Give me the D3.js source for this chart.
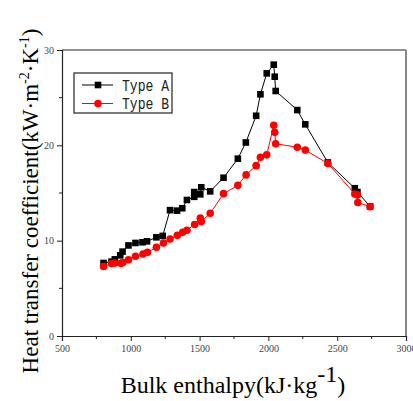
<!DOCTYPE html>
<html lang="en">
  <head>
    <meta charset="UTF-8" />
    <title>Heat transfer coefficient</title>
    <script src="https://cdn.jsdelivr.net/npm/d3@7"></script>
    <style>
      body { margin: 0; background: #fff; }
      svg { display: block; }
    </style>
  </head>
  <body>
    <svg width="413" height="401"></svg>
    <script>
      // data
      const enthalpyA = [802, 860, 884, 923, 940, 983, 1034, 1085, 1118, 1186, 1232, 1285, 1336, 1374, 1408, 1461, 1461, 1505, 1512, 1577, 1674, 1778, 1836, 1911, 1942, 1988, 2039, 2046, 2053, 2210, 2268, 2432, 2628, 2647, 2739];
      const htcA = [7.66, 7.8, 8.04, 8.46, 8.85, 9.5, 9.76, 9.83, 9.93, 10.35, 10.5, 13.2, 13.15, 13.4, 14.27, 14.6, 15.1, 14.86, 15.6, 15.17, 16.6, 18.6, 20.3, 23.1, 25.35, 27.55, 28.46, 27.2, 25.7, 23.7, 22.2, 18.2, 15.5, 15.1, 13.6];
      const enthalpyB = [802, 860, 884, 928, 942, 983, 1034, 1089, 1121, 1186, 1237, 1285, 1338, 1377, 1408, 1464, 1505, 1512, 1577, 1674, 1778, 1838, 1911, 1942, 1988, 2039, 2046, 2053, 2210, 2268, 2432, 2628, 2647, 2650, 2739];
      const htcB = [7.3, 7.6, 7.66, 7.62, 7.7, 8.0, 8.36, 8.6, 8.78, 9.3, 9.76, 10.17, 10.56, 10.87, 11.1, 11.7, 12.38, 12.0, 12.87, 14.93, 15.8, 16.9, 17.87, 18.74, 19.0, 22.1, 21.36, 20.17, 19.8, 19.5, 18.1, 14.9, 14.8, 14.0, 13.57];
      const xTicks = [500, 1000, 1500, 2000, 2500, 3000];
      const xMinor = [750, 1250, 1750, 2250, 2750];
      const yTicks = [0, 10, 20, 30];
      const yMinor = [5, 15, 25];
      const seriesNames = ["Type A", "Type B"];

      const pl = 62, pr = 406, pt = 50, pb = 336;
      const svg = d3.select("svg");

      const x = d3.scaleLinear().domain([500, 3000]).range([pl, pr]);
      const y = d3.scaleLinear().domain([0, 30]).range([pb, pt]);

      // frame (top and right)
      svg.append("line").attr("x1", pl).attr("x2", pr).attr("y1", pt).attr("y2", pt)
        .attr("stroke", "#222").attr("stroke-width", 1);
      svg.append("line").attr("x1", pr).attr("x2", pr).attr("y1", pt).attr("y2", pb)
        .attr("stroke", "#888").attr("stroke-width", 2);

      const tickFont = "'Liberation Serif', serif";

      const xAxis = svg.append("g").attr("transform", `translate(0,${pb})`)
        .call(d3.axisBottom(x).tickValues(xTicks).tickSize(5).tickPadding(4).tickFormat(d3.format("d")));
      xAxis.append("g").selectAll("line").data(xMinor).join("line")
        .attr("x1", d => x(d)).attr("x2", d => x(d)).attr("y1", 0).attr("y2", 3)
        .attr("stroke", "#222");

      const yAxis = svg.append("g").attr("transform", `translate(${pl},0)`)
        .call(d3.axisLeft(y).tickValues(yTicks).tickSize(5).tickPadding(3));
      yAxis.append("g").selectAll("line").data(yMinor).join("line")
        .attr("y1", d => y(d)).attr("y2", d => y(d)).attr("x1", 0).attr("x2", -3)
        .attr("stroke", "#222");

      [xAxis, yAxis].forEach(g => {
        g.select(".domain").attr("stroke", "#222").attr("stroke-width", 1.2);
        g.selectAll(".tick line").attr("stroke", "#222");
        g.selectAll("text").attr("font-family", tickFont).attr("font-size", 10).attr("fill", "#444");
      });

      const line = d3.line().x(d => x(d[0])).y(d => y(d[1]));
      const dataA = d3.zip(enthalpyA, htcA);
      const dataB = d3.zip(enthalpyB, htcB);

      // Type A
      svg.append("path").datum(dataA).attr("d", line)
        .attr("fill", "none").attr("stroke", "#000").attr("stroke-width", 1);
      svg.append("g").selectAll("rect").data(dataA).join("rect")
        .attr("x", d => x(d[0]) - 3.3).attr("y", d => y(d[1]) - 3.3)
        .attr("width", 6.6).attr("height", 6.6).attr("fill", "#000");

      // Type B
      svg.append("path").datum(dataB).attr("d", line)
        .attr("fill", "none").attr("stroke", "#f00").attr("stroke-width", 1);
      svg.append("g").selectAll("circle").data(dataB).join("circle")
        .attr("cx", d => x(d[0])).attr("cy", d => y(d[1])).attr("r", 3.8).attr("fill", "#f00");

      // legend
      const legend = svg.append("g");
      legend.append("rect").attr("x", 74).attr("y", 73).attr("width", 98).attr("height", 40)
        .attr("fill", "#fff").attr("stroke", "#333").attr("stroke-width", 1.3);
      const colors = ["#000", "#f00"];
      seriesNames.forEach((name, i) => {
        const ly = 85 + i * 18.5;
        legend.append("line").attr("x1", 82).attr("x2", 113).attr("y1", ly).attr("y2", ly)
          .attr("stroke", colors[i]).attr("stroke-width", 1);
        if (i === 0) {
          legend.append("rect").attr("x", 98 - 3.3).attr("y", ly - 3.3).attr("width", 6.6).attr("height", 6.6).attr("fill", "#000");
        } else {
          legend.append("circle").attr("cx", 98).attr("cy", ly).attr("r", 3.8).attr("fill", "#f00");
        }
        legend.append("text").attr("x", 122).attr("y", ly + 5.5)
          .attr("font-family", "'Liberation Mono', monospace").attr("font-size", 16)
          .attr("textLength", 47).attr("lengthAdjust", "spacingAndGlyphs")
          .attr("fill", "#222").text(name);
      });

      // axis titles
      const xt = svg.append("text").attr("x", 233).attr("y", 393).attr("text-anchor", "middle")
        .attr("font-family", tickFont).attr("font-size", 24).attr("fill", "#000");
      xt.append("tspan").text("Bulk enthalpy(kJ·kg");
      xt.append("tspan").attr("dy", -11).attr("font-size", 24).text("-1");
      xt.append("tspan").attr("dy", 11).text(")");

      const yt = svg.append("text").attr("transform", "translate(38,201) rotate(-90)")
        .attr("text-anchor", "middle").attr("font-family", tickFont).attr("font-size", 23).attr("fill", "#000");
      yt.append("tspan").text("Heat transfer coefficient(kW·m");
      yt.append("tspan").attr("dy", -9).attr("font-size", 14).text("-2");
      yt.append("tspan").attr("dy", 9).text("·K");
      yt.append("tspan").attr("dy", -9).attr("font-size", 14).text("-1");
      yt.append("tspan").attr("dy", 9).text(")");
    </script>
  </body>
</html>
